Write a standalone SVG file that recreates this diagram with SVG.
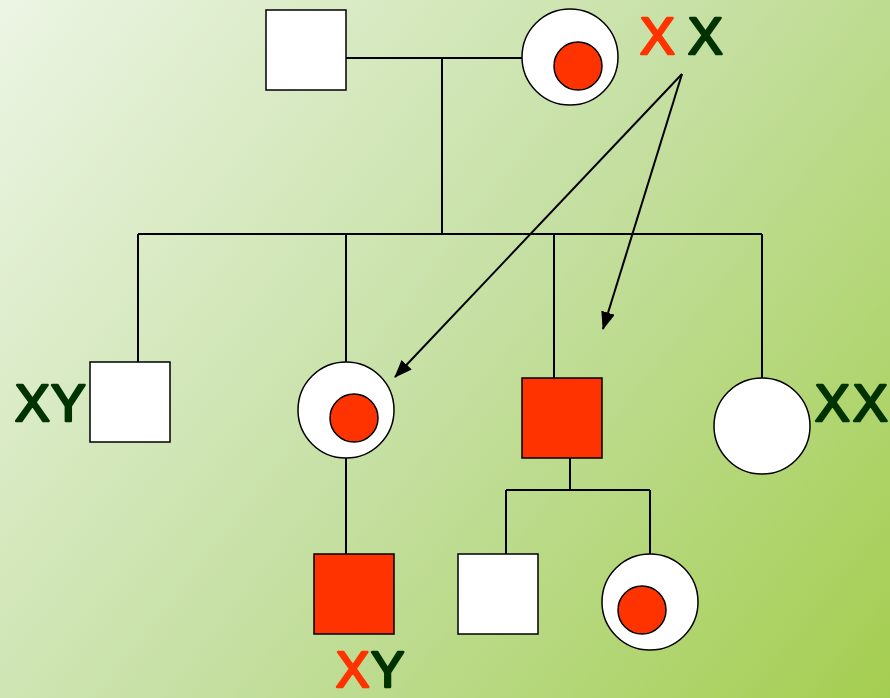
<svg xmlns="http://www.w3.org/2000/svg" width="890" height="698" viewBox="0 0 890 698">
<defs>
<linearGradient id="bg" x1="0" y1="0" x2="890" y2="698" gradientUnits="userSpaceOnUse">
<stop offset="0" stop-color="#ecf5e4"/>
<stop offset="0.5" stop-color="#c6e0a4"/>
<stop offset="1" stop-color="#a4ce50"/>
</linearGradient>
<marker id="ah" markerWidth="18" markerHeight="14" refX="17" refY="7" orient="auto" markerUnits="userSpaceOnUse" viewBox="0 0 18 14">
<path d="M0,0 L18,7 L0,14 z" fill="#000"/>
</marker>
<style>
.m{fill:#fff;stroke:#000;stroke-width:1.5}
.a{fill:#ff3300;stroke:#000;stroke-width:1.5}
.ln{stroke:#000;stroke-width:2;fill:none}
.ar{stroke:#000;stroke-width:2;fill:none}
.t{font-family:"Liberation Sans",Arial,sans-serif;font-weight:normal;font-size:52px;stroke-linejoin:round;stroke-linecap:round;stroke-width:2.6}
.b{font-size:50px}
.r{fill:#ff3300;stroke:#ff3300}
.g{fill:#003300;stroke:#003300}
</style>
</defs>
<rect width="890" height="698" fill="url(#bg)"/>
<g id="connectors">
<path class="ln" d="M346,58 H522 M442,58 V234 M138,234 H762 M138,234 V362 M346,234 V362 M554,234 V378 M762,234 V378 M346,458 V554 M570,458 V490 M506,490 H650 M506,490 V554 M650,490 V554"/>
<line class="ar" x1="682" y1="74" x2="395" y2="377" marker-end="url(#ah)"/>
<line class="ar" x1="682" y1="74" x2="603" y2="329" marker-end="url(#ah)"/>
</g>
<g id="father"><rect class="m" x="266" y="10" width="80" height="80"/></g>
<g id="mother"><circle class="m" cx="570" cy="57" r="48"/><circle class="a" cx="578" cy="66" r="24"/></g>
<g id="son1"><rect class="m" x="90" y="362" width="80" height="80"/></g>
<g id="daughter1"><circle class="m" cx="346" cy="410" r="48"/><circle class="a" cx="354" cy="418" r="24"/></g>
<g id="son2"><rect class="a" x="522" y="378" width="80" height="80"/></g>
<g id="daughter2"><circle class="m" cx="762" cy="426" r="48"/></g>
<g id="grandson1"><rect class="a" x="314" y="554" width="80" height="80"/></g>
<g id="grandson2"><rect class="m" x="458" y="554" width="80" height="80"/></g>
<g id="granddaughter"><circle class="m" cx="650" cy="602" r="48"/><circle class="a" cx="642" cy="610" r="24"/></g>
<g id="labels">
<text class="t r" x="640" y="54">X</text><text class="t g" x="688" y="54">X</text>
<text class="t g" x="15" y="421">X</text><text class="t g" x="51" y="421">Y</text>
<text class="t g" x="815" y="421">X</text><text class="t g" x="853" y="421">X</text>
<text class="t b r" x="336" y="687">X</text><text class="t b g" x="371" y="687">Y</text>
</g>
</svg>
